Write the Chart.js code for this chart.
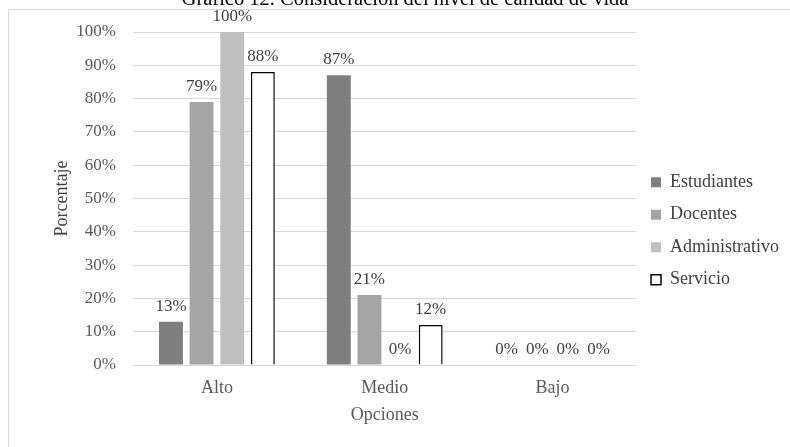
<!DOCTYPE html>
<html>
<head>
<meta charset="utf-8">
<script src="https://cdn.jsdelivr.net/npm/chart.js@4/dist/chart.umd.min.js"></script>
<style>
  html, body { margin: 0; padding: 0; background: #fff; }
  #contenedor { width: 790px; height: 447px; position: relative; }
</style>
</head>
<body>
<div id="contenedor"><canvas id="grafico"></canvas></div>
<script>
// datos del gráfico
var opciones = ['Alto', 'Medio', 'Bajo'];
var estudiantes = [13, 87, 0];
var docentes = [79, 21, 0];
var administrativo = [100, 0, 0];
var servicio = [88, 12, 0];
var ticksY = [0, 10, 20, 30, 40, 50, 60, 70, 80, 90, 100];

var titulo = 'Gráfico 12. Consideración del nivel de calidad de vida';
var fuente = '"Liberation Serif", "Times New Roman", serif';

// marco y titulo (el titulo queda cortado arriba)
var marco = {
  id: 'marco',
  beforeDraw: function (chart) {
    var c = chart.ctx;
    c.save();
    c.strokeStyle = '#d9d9d9';
    c.lineWidth = 1;
    c.beginPath();
    c.moveTo(8.5, 447);
    c.lineTo(8.5, 9.5);
    c.lineTo(790, 9.5);
    c.stroke();
    c.fillStyle = '#000';
    c.font = '20.5px ' + fuente;
    c.textAlign = 'center';
    c.textBaseline = 'alphabetic';
    c.fillText(titulo, 405, 5);
    c.restore();
  }
};

// etiquetas de valor encima de cada barra
var etiquetas = {
  id: 'etiquetas',
  afterDatasetsDraw: function (chart) {
    var c = chart.ctx;
    c.save();
    c.fillStyle = '#404040';
    c.font = '17px ' + fuente;
    c.textAlign = 'center';
    c.textBaseline = 'alphabetic';
    chart.data.datasets.forEach(function (ds, i) {
      var meta = chart.getDatasetMeta(i);
      meta.data.forEach(function (barra, j) {
        c.fillText(ds.data[j] + '%', barra.x, barra.y - 11);
      });
    });
    c.restore();
  }
};

var ctx = document.getElementById('grafico').getContext('2d');
var chart = new Chart(ctx, {
  type: 'bar',
  data: {
    labels: opciones,
    datasets: [
      { label: 'Estudiantes', data: estudiantes, backgroundColor: '#7f7f7f', borderWidth: 0 },
      { label: 'Docentes', data: docentes, backgroundColor: '#a5a5a5', borderWidth: 0 },
      { label: 'Administrativo', data: administrativo, backgroundColor: '#bfbfbf', borderWidth: 0 },
      { label: 'Servicio', data: servicio, backgroundColor: '#ffffff', borderColor: '#000000', borderWidth: 1.5 }
    ]
  },
  options: {
    responsive: true,
    maintainAspectRatio: false,
    animation: false,
    categoryPercentage: 0.73,
    barPercentage: 0.78,
    layout: {
      padding: { top: 32, left: 45, right: 1, bottom: 17 }
    },
    scales: {
      x: {
        afterFit: function (axis) { axis.height = 65; },
        grid: { display: false, drawTicks: false },
        border: { display: false },
        ticks: { color: '#595959', font: { family: fuente, size: 18 }, padding: 12 },
        title: {
          display: true,
          text: 'Opciones',
          color: '#595959',
          font: { family: fuente, size: 18 },
          padding: { top: 0, bottom: 4 }
        }
      },
      y: {
        min: 0,
        max: 100,
        afterFit: function (axis) { axis.width = 88; },
        afterBuildTicks: function (axis) {
          axis.ticks = ticksY.map(function (v) { return { value: v }; });
        },
        grid: { color: '#d9d9d9', drawTicks: false },
        border: { display: false },
        ticks: {
          color: '#595959',
          font: { family: fuente, size: 17 },
          padding: 17,
          callback: function (v) { return v + '%'; }
        },
        title: {
          display: true,
          text: 'Porcentaje',
          color: '#404040',
          font: { family: fuente, size: 18 },
          padding: { top: 6, bottom: 0 }
        }
      }
    },
    plugins: {
      legend: {
        position: 'right',
        labels: {
          color: '#404040',
          font: { family: fuente, size: 18 },
          boxWidth: 10,
          boxHeight: 10,
          padding: 14.5
        }
      },
      tooltip: { enabled: false },
      title: { display: false }
    }
  },
  plugins: [marco, etiquetas]
});
</script>
</body>
</html>
